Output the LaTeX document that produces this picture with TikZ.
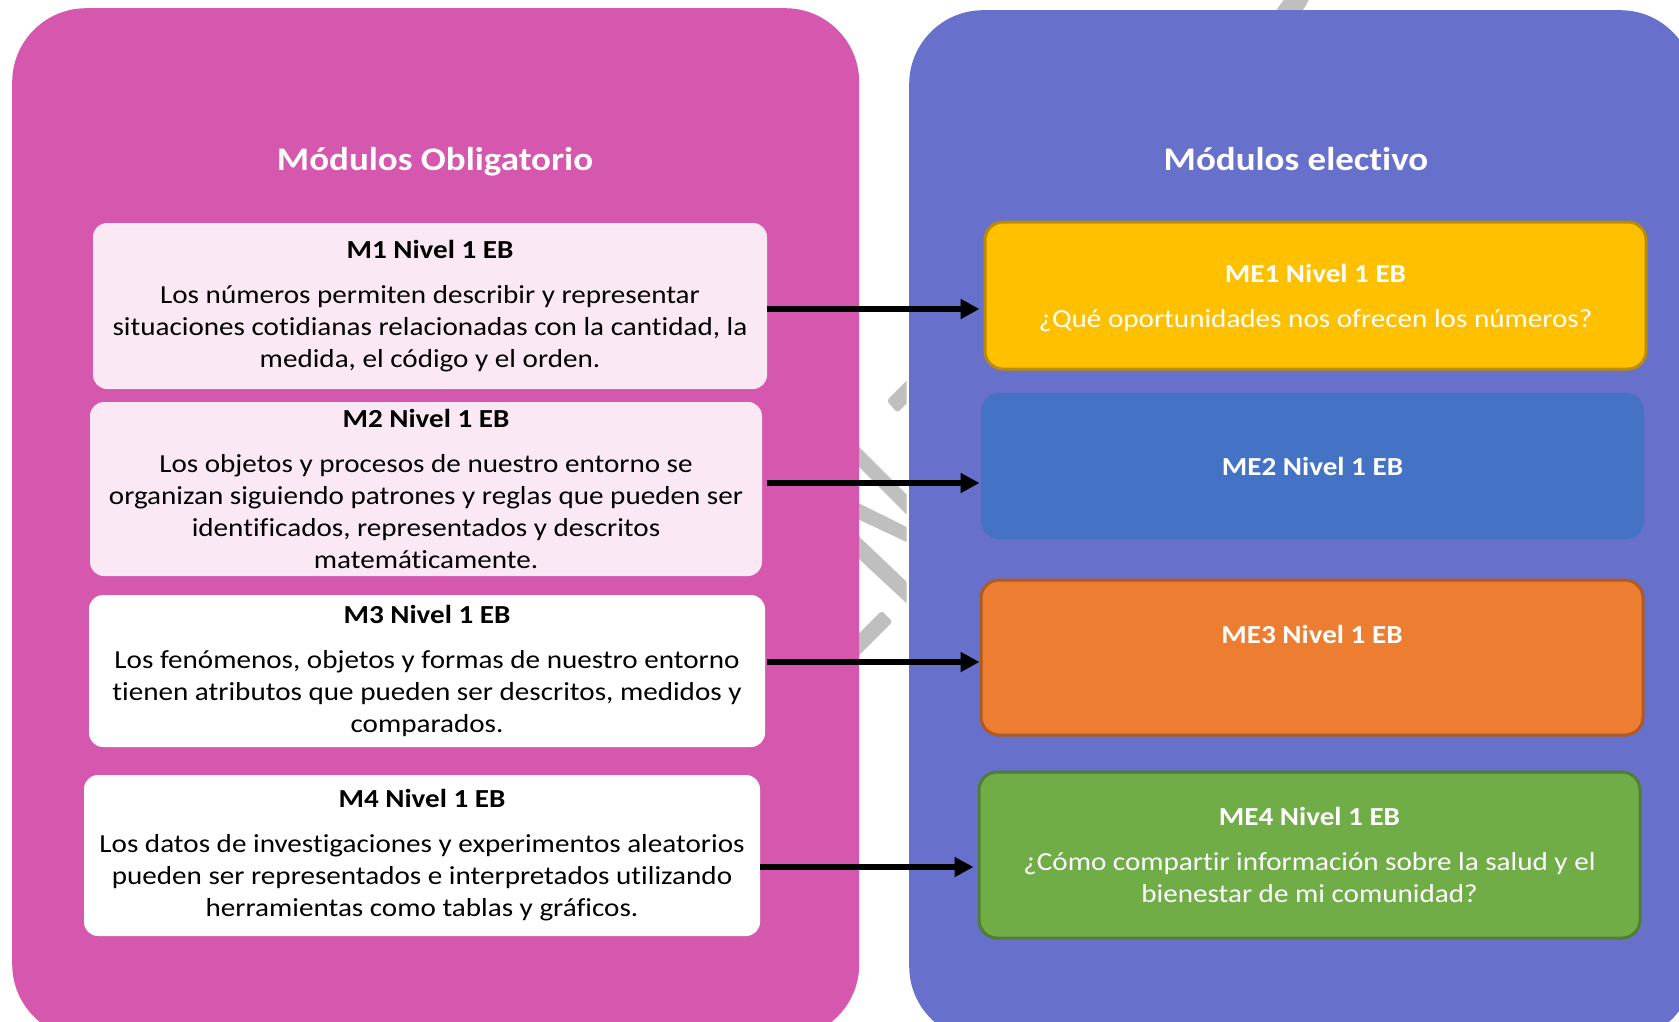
\documentclass[tikz,border=0pt]{standalone}
\usepackage{fontspec}
\setmainfont{Carlito}[FakeStretch=1.12, Ligatures=NoCommon]
\usetikzlibrary{arrows.meta}
\definecolor{panelpink}{RGB}{213,87,174}
\definecolor{panelblue}{RGB}{103,112,203}
\definecolor{softpink}{RGB}{250,233,244}
\definecolor{gold}{RGB}{255,192,0}
\definecolor{golddark}{RGB}{188,140,0}
\definecolor{royal}{RGB}{68,114,196}
\definecolor{orangef}{RGB}{237,125,49}
\definecolor{oranged}{RGB}{174,90,33}
\definecolor{greenf}{RGB}{112,173,71}
\definecolor{greend}{RGB}{80,126,50}
\definecolor{stripe}{RGB}{191,191,191}
\begin{document}
\begin{tikzpicture}[x=1pt,y=-1pt,
  panel/.style={inner sep=0pt, rounded corners=74pt},
  paneltitle/.style={text=white, font=\fontsize{33}{40}\selectfont\bfseries,
    text height=24pt, text depth=7pt},
  mbox/.style={inner sep=0pt, rounded corners=14pt, align=center, text=black,
    font=\fontsize{26}{32}\selectfont},
  ebox/.style={inner sep=0pt, rounded corners=18pt, line width=3pt, align=center,
    text=white, font=\fontsize{26}{32}\selectfont},
  arr/.style={line width=6pt, -{Triangle[length=19pt,width=19pt]}}
]
\clip (0,0) rectangle (1679,1021);
\useasboundingbox (0,0) rectangle (1679,1021);
\fill[white] (0,0) rectangle (1679,1021);

% grey diagonal bands behind the two panels
\begin{scope}
\clip (850,0) rectangle (906.5,1021) (1270,0) rectangle (1320,12);
\fill[stripe, rounded corners=3pt] (886.7,400.7) -- (897.3,412.7) -- (947,363) -- (936.7,350.7) -- cycle;
\fill[stripe] (830,418) -- (930,518) -- (930,538) -- (830,438) -- cycle;
\fill[stripe] (830,489) -- (930,538.5) -- (930,553) -- (830,506) -- cycle;
\fill[stripe] (830,509) -- (930,604) -- (930,625) -- (830,532) -- cycle;
\fill[stripe, rounded corners=3pt] (881.7,610.7) -- (892.7,621.7) -- (832.7,681.7) -- (821.7,670.7) -- cycle;
\fill[stripe, rounded corners=3pt] (1272,16) -- (1288,-6) -- (1312,-6) -- (1304,9) -- (1296,16) -- cycle;
\end{scope}

% the two column panels
\node[panel, fill=panelpink, minimum width=847pt, minimum height=1030pt, anchor=north west] (colL) at (12,8) {};
\node[panel, fill=panelblue, minimum width=785pt, minimum height=1030pt, anchor=north west] (colR) at (909,10) {};

\node[paneltitle] (titleL) at (435,162) {Módulos Obligatorio};
\node[paneltitle] (titleR) at (1296,162) {Módulos electivo};

% compulsory modules
\node[mbox, fill=softpink, minimum width=674pt, minimum height=166pt] (m1) at (430,306)
  {\textbf{M1 Nivel 1 EB}\\[13pt]
   Los números permiten describir y representar\\
   situaciones cotidianas relacionadas con la cantidad, la\\
   medida, el código y el orden.};
\node[mbox, fill=softpink, minimum width=672pt, minimum height=174pt] (m2) at (426,489)
  {\textbf{M2 Nivel 1 EB}\\[13pt]
   Los objetos y procesos de nuestro entorno se\\
   organizan siguiendo patrones y reglas que pueden ser\\
   identificados, representados y descritos\\
   matemáticamente.};
\node[mbox, fill=white, minimum width=676pt, minimum height=152pt] (m3) at (427,671)
  {\textbf{M3 Nivel 1 EB}\\[13pt]
   Los fenómenos, objetos y formas de nuestro entorno\\
   tienen atributos que pueden ser descritos, medidos y\\
   comparados.};
\node[mbox, fill=white, minimum width=676pt, minimum height=161pt] (m4) at (422,855.5)
  {\textbf{M4 Nivel 1 EB}\\[13pt]
   Los datos de investigaciones y experimentos aleatorios\\
   pueden ser representados e interpretados utilizando\\
   herramientas como tablas y gráficos.};

% elective modules
\node[ebox, fill=gold, draw=golddark, minimum width=661pt, minimum height=147pt] (me1) at (1315.5,295.5)
  {\rule{0pt}{23pt}\textbf{ME1 Nivel 1 EB}\\[13pt]
   ¿Qué oportunidades nos ofrecen los números?};
\node[ebox, fill=royal, minimum width=663pt, minimum height=146pt] (me2) at (1312.5,466)
  {\textbf{ME2 Nivel 1 EB}};
\node[ebox, fill=orangef, draw=oranged, minimum width=662pt, minimum height=155pt] (me3) at (1312,657.5)
  {\textbf{ME3 Nivel 1 EB}\\[5pt]\strut};
\node[ebox, fill=greenf, draw=greend, minimum width=661pt, minimum height=166pt] (me4) at (1309.5,855)
  {\textbf{ME4 Nivel 1 EB}\\[13pt]
   ¿Cómo compartir información sobre la salud y el\\
   bienestar de mi comunidad?};

% links from each compulsory module to its elective module
\draw[arr, shorten >=4pt] ([yshift=-3pt]m1.east) -- ([yshift=-3pt]m1.east -| me1.west);
\draw[arr] ([xshift=5pt,yshift=6pt]m2.east) -- ([yshift=6pt]m2.east -| me2.west);
\draw[arr] ([xshift=2pt,yshift=9pt]m3.east) -- ([yshift=9pt]m3.east -| me3.west);
\draw[arr, shorten >=4pt] ([yshift=-11.5pt]m4.east) -- ([yshift=-11.5pt]m4.east -| me4.west);
\end{tikzpicture}
\end{document}
